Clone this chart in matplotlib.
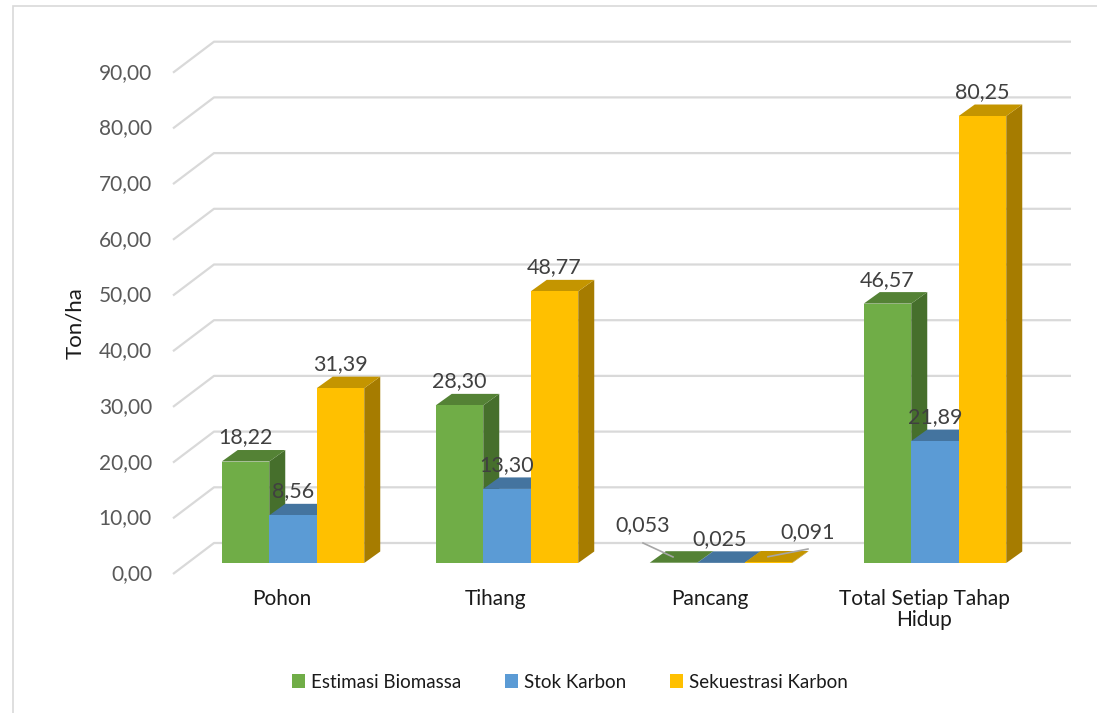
import matplotlib
matplotlib.use("Agg")
import matplotlib.pyplot as plt
from matplotlib.patches import Polygon, Rectangle, Patch
import numpy as np

plt.rcParams['font.family'] = ['Lato', 'DejaVu Sans']

# ---- data ----
categories = ["Pohon", "Tihang", "Pancang", "Total Setiap Tahap\nHidup"]
series_names = ["Estimasi Biomassa", "Stok Karbon", "Sekuestrasi Karbon"]
estimasi_biomassa = [18.22, 28.30, 0.053, 46.57]
stok_karbon = [8.56, 13.30, 0.025, 21.89]
sekuestrasi_karbon = [31.39, 48.77, 0.091, 80.25]
value_labels = [
    ["18,22", "28,30", "0,053", "46,57"],
    ["8,56", "13,30", "0,025", "21,89"],
    ["31,39", "48,77", "0,091", "80,25"],
]
y_ticks = [0, 10, 20, 30, 40, 50, 60, 70, 80, 90]
y_tick_labels = ["0,00", "10,00", "20,00", "30,00", "40,00", "50,00",
                 "60,00", "70,00", "80,00", "90,00"]

series = [estimasi_biomassa, stok_karbon, sekuestrasi_karbon]
front_colors = ["#70AD47", "#5B9BD5", "#FFC000"]
top_colors = ["#548235", "#44749F", "#C49500"]
side_colors = ["#466F2C", "#3A6690", "#A67C00"]

# ---- layout (figure pixels) ----
W, H = 1097, 713
CAT_PX = 214.0          # pixels between category centers
X0_PX = 293.0           # pixel x of first category center
BASE_PX = 563.0         # pixel y of bar base
UNIT_PX = 5.57          # pixels per Ton/ha

fig = plt.figure(figsize=(W / 100, H / 100), dpi=100)
ax = fig.add_axes([0, 0, 1, 1])
ax.set_xlim((0 - X0_PX) / CAT_PX, (W - X0_PX) / CAT_PX)
ax.set_ylim((BASE_PX - H) / UNIT_PX, BASE_PX / UNIT_PX)
ax.axis("off")

def px_x(p):
    return (p - X0_PX) / CAT_PX

def px_dy(p):
    return p / UNIT_PX

def px_y(p):
    return (BASE_PX - p) / UNIT_PX

bar_w = 47.5 / CAT_PX
depth_dx = 16 / CAT_PX
depth_dy = px_dy(11.5)

# walls / gridlines
wall_front_x = px_x(173)
wall_back_x = px_x(214)
wall_right_x = px_x(1071)
front_dy = px_dy(-11)     # front edge of floor relative to bar base
back_dy = px_dy(20)       # back wall relative to bar base
grid_c = "#D9D9D9"
for t, lab in zip(y_ticks, y_tick_labels):
    ax.plot([wall_front_x, wall_back_x, wall_right_x],
            [t + front_dy, t + back_dy, t + back_dy],
            color=grid_c, lw=1.6, zorder=1, solid_capstyle="butt")
    ax.text(px_x(152), t + front_dy, lab, ha="right", va="center",
            fontsize=15, color="#595959")

ax.text(px_x(75), px_y(323), "Ton/ha", rotation=90,
        ha="center", va="center", fontsize=16, color="#1a1a1a")

# bars
x = np.arange(len(categories))
offsets = [-bar_w, 0.0, bar_w]
z = 3
for si, vals in enumerate(series):
    for ci, v in enumerate(vals):
        xl = x[ci] + offsets[si] - bar_w / 2
        xr = xl + bar_w
        side = Polygon([(xr, 0), (xr + depth_dx, depth_dy),
                        (xr + depth_dx, v + depth_dy), (xr, v)],
                       closed=True, facecolor=side_colors[si],
                       edgecolor="none", zorder=z + ci * 10 + si * 3)
        top = Polygon([(xl, v), (xl + depth_dx, v + depth_dy),
                       (xr + depth_dx, v + depth_dy), (xr, v)],
                      closed=True, facecolor=top_colors[si],
                      edgecolor="none", zorder=z + ci * 10 + si * 3 + 1)
        ax.add_patch(side)
        ax.add_patch(top)
        ax.bar(xl, v, width=bar_w, align="edge", color=front_colors[si],
               edgecolor="none", zorder=z + ci * 10 + si * 3 + 2)

# value labels
lab_dy = px_dy(24)
for si, vals in enumerate(series):
    for ci, v in enumerate(vals):
        cx = x[ci] + offsets[si]
        if ci == 2:
            continue
        ax.text(cx, v + lab_dy, value_labels[si][ci], ha="center",
                va="center", fontsize=15.5, color="#404040", zorder=50)

# small values with leader lines
pan = 2
lead_c = "#A6A6A6"
ax.text(px_x(643), px_y(525), value_labels[0][pan],
        ha="center", va="center", fontsize=15.5, color="#404040", zorder=50)
ax.plot([px_x(643), px_x(673)],
        [px_y(543), series[0][pan] + depth_dy / 2],
        color=lead_c, lw=1.2, zorder=60)
ax.text(px_x(720), px_y(539), value_labels[1][pan],
        ha="center", va="center", fontsize=15.5, color="#404040", zorder=50)
ax.text(px_x(808), px_y(532), value_labels[2][pan],
        ha="center", va="center", fontsize=15.5, color="#404040", zorder=50)
ax.plot([px_x(808), px_x(768)],
        [px_y(549), series[2][pan] + depth_dy / 2],
        color=lead_c, lw=1.2, zorder=60)

# category labels
for ci, name in enumerate(categories):
    ax.text(x[ci] - 11 / CAT_PX, px_y(589), name,
            ha="center", va="top", fontsize=15, color="#1a1a1a",
            linespacing=1.05)

# legend
handles = [Patch(facecolor=c, edgecolor="none") for c in front_colors]
fig.legend(handles, series_names, loc="center",
           bbox_to_anchor=(570 / W, 1 - 682 / H), ncol=3, frameon=False,
           fontsize=13.5, handlelength=0.7, handleheight=0.7,
           handletextpad=0.35, columnspacing=2.3, labelcolor="#1a1a1a")

# chart border
fig.patches.append(Rectangle((13 / W, -0.01), 1.0, 1 - 6 / H + 0.01,
                             transform=fig.transFigure, fill=False,
                             edgecolor="#D9D9D9", lw=1.2))

fig.savefig("out.png", dpi=100)
